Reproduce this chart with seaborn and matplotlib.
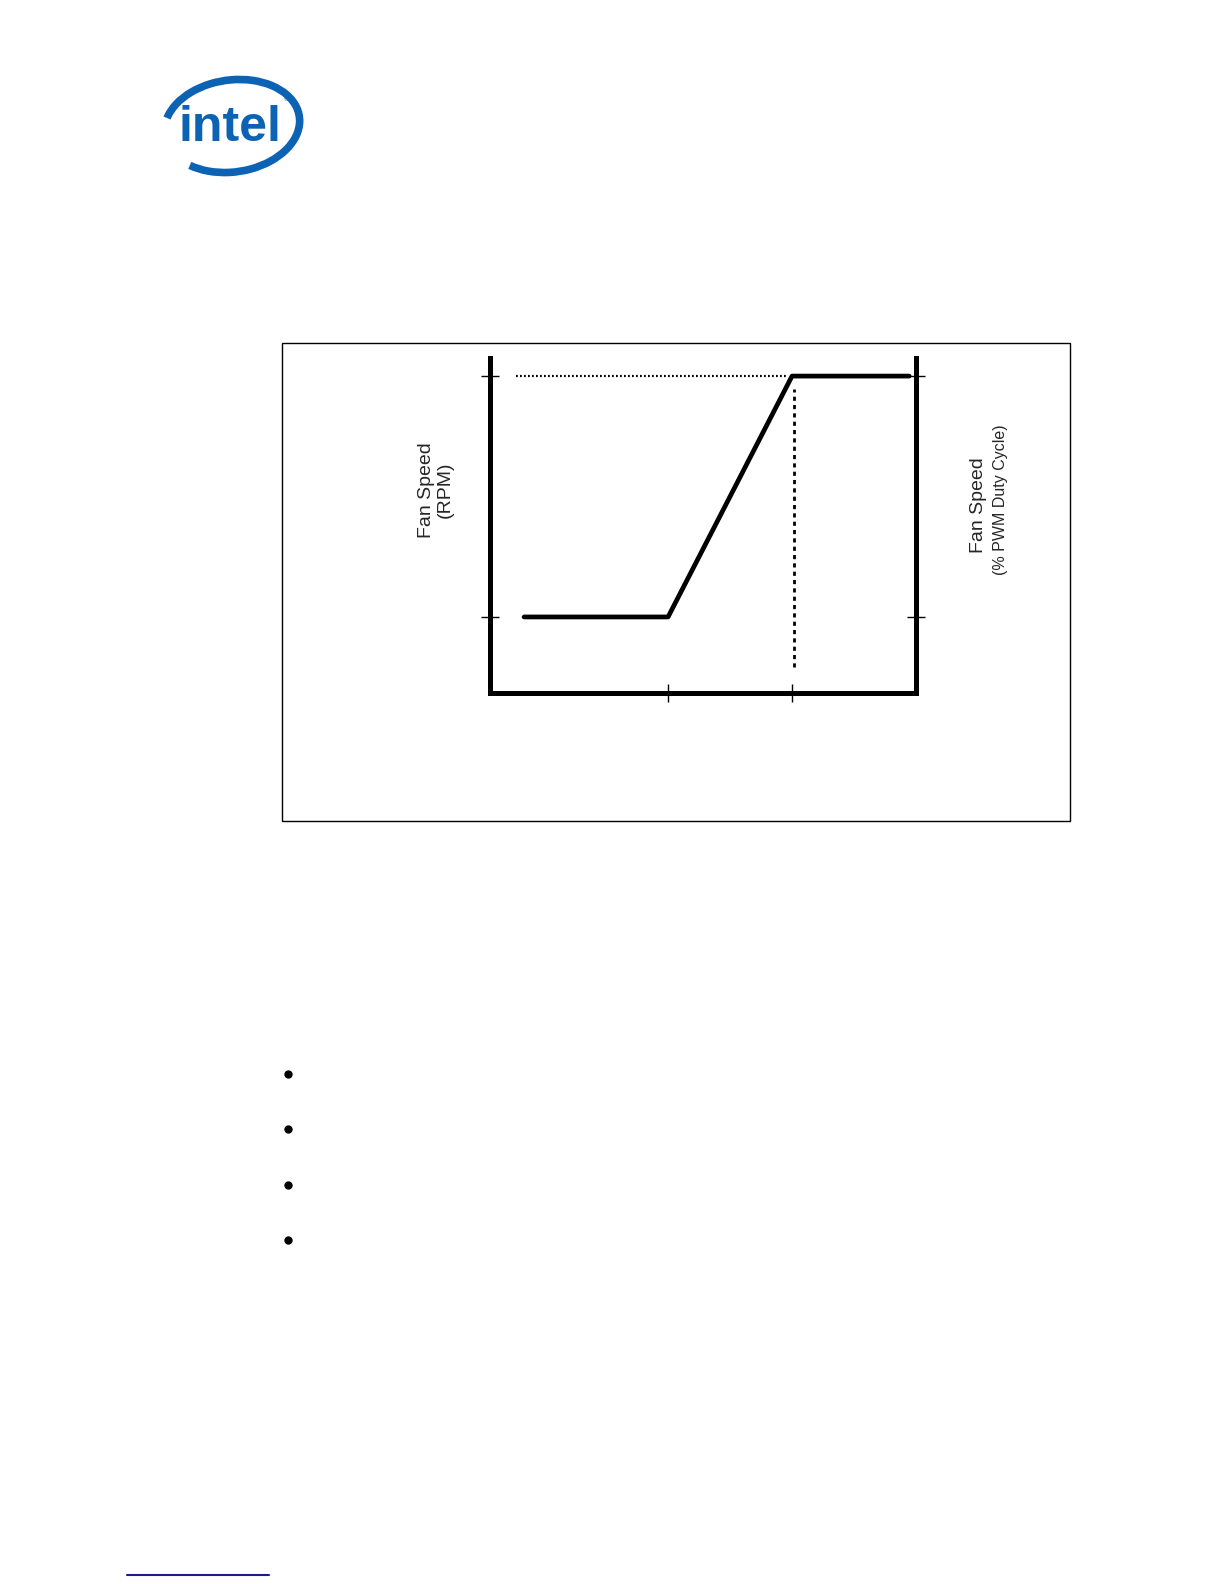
import matplotlib
matplotlib.use("Agg")
import matplotlib.pyplot as plt
import seaborn as sns
import pandas as pd
from matplotlib.patches import Arc, Rectangle

# ---- data ----
temperature = [8.0, 41.8, 70.9, 98.4]
fan_speed = [22.7, 22.7, 94.6, 94.6]
x_ticks = [41.8, 70.9]
y_ticks = [22.7, 94.6]
max_ref_x = [6.0, 70.0]
max_ref_y = [94.6, 94.6]
ctrl_ref_x = [71.4, 71.4]
ctrl_ref_y = [7.8, 90.7]
bullet_rows = [1074, 1129, 1185, 1240]

sns.set_theme(style="white")
plt.rcParams['font.family'] = ['Liberation Sans', 'DejaVu Sans']

W, H = 1224, 1584
fig = plt.figure(figsize=(W / 100, H / 100), dpi=100)
fig.patch.set_facecolor("white")

# page-level axes in pixel coordinates
bg = fig.add_axes([0, 0, 1, 1])
bg.set_xlim(0, W)
bg.set_ylim(H, 0)
bg.axis("off")

# Intel logo
blue = "#0d63b3"
bg.add_patch(Arc((232, 126), 136, 92, angle=-8, theta1=195, theta2=505,
                 color=blue, lw=5.5))
bg.text(230, 128, "intel", color=blue, fontsize=36, fontweight="bold",
        family=["Liberation Sans Narrow", "Liberation Sans"],
        ha="center", va="center")
bg.text(286, 100, "®", color=blue, fontsize=5, ha="center", va="center")

# outer frame
bg.add_patch(Rectangle((282, 343), 788, 478, fill=False, ec="black", lw=1.0))

# bullets
for yb in bullet_rows:
    bg.plot([288], [yb], marker="o", ms=5, color="black")

# footer line
bg.plot([127, 269], [1575, 1575], color="#1a1a8c", lw=1.5)

# ---- chart ----
ax = fig.add_axes([490 / W, 1 - 693 / H, (916 - 490) / W, (693 - 358) / H])
ax.set_facecolor("none")
df = pd.DataFrame({"Temperature": temperature, "Fan Speed": fan_speed})
sns.lineplot(data=df, x="Temperature", y="Fan Speed", ax=ax, color="black",
             lw=3.4, sort=False, estimator=None)
ax.plot(max_ref_x, max_ref_y, color="black", lw=1.6, linestyle=(0, (0.8, 1.0)))
ax.plot(ctrl_ref_x, ctrl_ref_y, color="black", lw=2.0, linestyle=(0, (1.5, 1.5)))

ax.set_xlim(0, 100)
ax.set_ylim(0, 100)
ax.set_xticks(x_ticks)
ax.set_yticks(y_ticks)
ax.set_xticklabels([])
ax.set_yticklabels([])
ax.set_xlabel("")
ax.set_ylabel("")
ax.tick_params(axis="both", direction="inout", length=13, width=1.0,
               color="black", left=True, bottom=True, right=True)
for s in ["left", "bottom", "right"]:
    ax.spines[s].set_visible(True)
    ax.spines[s].set_color("black")
    ax.spines[s].set_linewidth(3.6)
ax.spines["top"].set_visible(False)

fig.text(436 / W, 1 - 490 / H, "Fan Speed\n(RPM)", rotation=90, fontsize=14,
         ha="center", va="center", linespacing=1.15)
fig.text(978 / W, 1 - 505 / H, "Fan Speed", rotation=90, fontsize=14,
         ha="center", va="center")
fig.text(1000 / W, 1 - 500 / H, "(% PWM Duty Cycle)", rotation=90, fontsize=11.5,
         ha="center", va="center")

fig.savefig("out.png", dpi=100)
